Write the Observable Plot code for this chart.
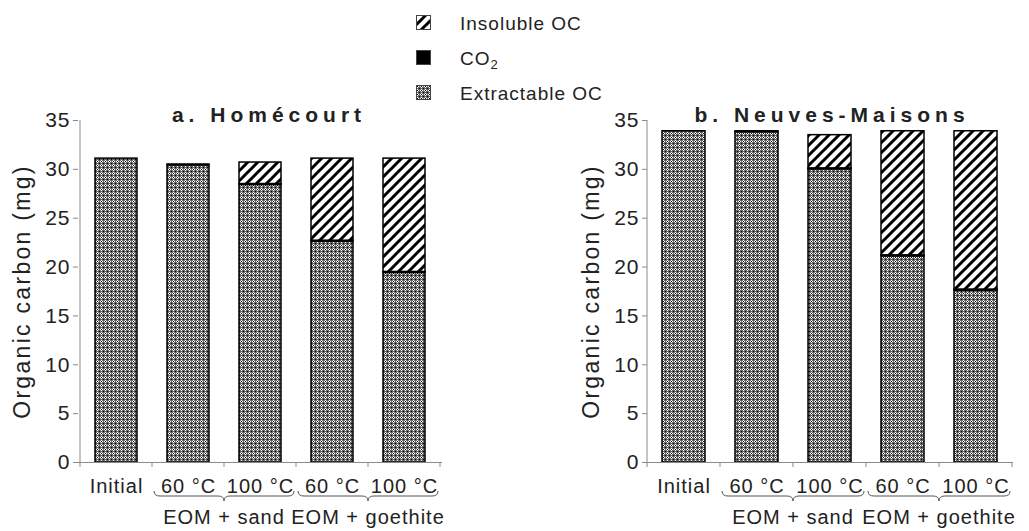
<!DOCTYPE html>
<html>
<head>
<meta charset="utf-8">
<script src="https://cdn.jsdelivr.net/npm/d3@7"></script>
<script src="https://cdn.jsdelivr.net/npm/@observablehq/plot@0.6"></script>
<style>
  html, body { margin: 0; padding: 0; background: #fff; }
  #wrap { position: relative; width: 1029px; height: 531px; overflow: hidden; font-family: "Liberation Sans", Arial, sans-serif; color: #222; }
  #wrap svg text { letter-spacing: 1px; }
  #wrap svg text.ylab { letter-spacing: 2.3px; }
  .panel { position: absolute; top: 0; }
  .title { position: absolute; font-weight: bold; font-size: 21px; letter-spacing: 5px; white-space: nowrap; transform: translate(-50%, -50%); line-height: 1; }
  #legend { position: absolute; left: 416px; top: 14px; font-size: 19px; letter-spacing: 1px; }
  #legend .row { position: relative; height: 35px; }
  #legend .row svg { position: absolute; left: 0; top: 1px; }
  #legend .row span { position: absolute; left: 44px; top: -1px; white-space: nowrap; }
  #legend sub { font-size: 13px; vertical-align: -4px; letter-spacing: 0; }
</style>
</head>
<body>
<svg width="0" height="0" style="position:absolute">
  <defs>
    <pattern id="dots" patternUnits="userSpaceOnUse" width="4" height="4" shape-rendering="crispEdges">
      <rect width="4" height="4" fill="#666"/>
      <rect x="1" y="0" width="1" height="1" fill="#fff"/>
      <rect x="0" y="1" width="1" height="1" fill="#fff"/>
      <rect x="2" y="1" width="1" height="1" fill="#fff"/>
      <rect x="1" y="2" width="1" height="1" fill="#fff"/>
      <rect x="1" y="1" width="1" height="1" fill="#000"/>
      <rect x="3" y="3" width="1" height="1" fill="#000"/>
    </pattern>
    <pattern id="hatch" patternUnits="userSpaceOnUse" width="10" height="10">
      <rect width="10" height="10" fill="#fff"/>
      <path d="M-2,2 l4,-4 M0,10 l10,-10 M8,12 l4,-4" stroke="#000" stroke-width="3"/>
    </pattern>
  </defs>
</svg>
<div id="wrap">
  <div id="left" class="panel" style="left:0"></div>
  <div id="right" class="panel" style="left:514px"></div>
  <div class="title" id="t1" style="left:269px; top:114px">a. Homécourt</div>
  <div class="title" id="t2" style="left:832px; top:114px">b. Neuves-Maisons</div>
  <div id="legend"></div>
</div>
<script>
// ---- data ----
const treatments = ["Initial", "sand60", "sand100", "goethite60", "goethite100"];
const tickLabels = ["Initial", "60 °C", "100 °C", "60 °C", "100 °C"];
const components = ["Extractable OC", "CO2", "Insoluble OC"];
const legendOrder = ["Insoluble OC", "CO2", "Extractable OC"];

const homExtractable = [31.1, 30.4, 28.4, 22.6, 19.4];
const homCO2         = [0,    0.1,  0.1,  0.1,  0.1];
const homInsoluble   = [0,    0,    2.2,  8.4,  11.6];

const nmExtractable  = [33.9, 33.8, 30.0, 21.1, 17.6];
const nmCO2          = [0,    0.1,  0.1,  0.1,  0.1];
const nmInsoluble    = [0,    0,    3.4,  12.7, 16.2];

const yTicks = [0, 5, 10, 15, 20, 25, 30, 35];
const groups = [
  {label: "EOM + sand", first: "sand60", last: "sand100"},
  {label: "EOM + goethite", first: "goethite60", last: "goethite100"}
];
const yLabel = "Organic carbon (mg)";

// ---- styles ----
const fills = ["url(#dots)", "#000", "url(#hatch)"];
const axisGray = "#8a8a8a";
const textColor = "#222";

function rowsFor(ext, co2, ins) {
  const rows = [];
  treatments.forEach((t, i) => {
    [ext[i], co2[i], ins[i]].forEach((v, j) => {
      if (v > 0) rows.push({treatment: t, component: components[j], value: v});
    });
  });
  return rows;
}

function makeChart({ext, co2, ins, width, marginLeft, marginRight}) {
  const plot = Plot.plot({
    width, height: 531,
    marginTop: 120, marginBottom: 69, marginLeft, marginRight,
    style: {fontFamily: "Liberation Sans, Arial, sans-serif", fontSize: "20px", color: textColor, background: "transparent", overflow: "visible"},
    x: {domain: treatments, paddingInner: 0.41, paddingOuter: 0.205},
    y: {domain: [0, 35]},
    color: {domain: components, range: fills},
    marks: [
      Plot.barY(rowsFor(ext, co2, ins), {x: "treatment", y: "value", fill: "component", stroke: "#000", strokeWidth: 1.5}),
      Plot.ruleY([0], {stroke: axisGray, strokeWidth: 1}),
      Plot.axisY({ticks: yTicks, tickSize: 5, tickPadding: 3, stroke: axisGray, fill: textColor, fontSize: 21, label: null}),
      Plot.axisX({tickSize: 0, tickPadding: 16, fontSize: 20, fill: textColor, label: null,
        tickFormat: d => tickLabels[treatments.indexOf(d)]}),
      Plot.text([yLabel], {frameAnchor: "left", rotate: -90, dx: -56, textAnchor: "middle", lineAnchor: "middle", fontSize: 23, fill: textColor, className: "ylab"})
    ]
  });

  // decorations computed from Plot's own scales
  const x = plot.scale("x"), y = plot.scale("y");
  const bw = x.bandwidth;
  const step = x.step != null ? x.step : (x.apply(treatments[1]) - x.apply(treatments[0]));
  const center = t => x.apply(t) + bw / 2;
  const bound = i => center(treatments[0]) - step / 2 + i * step;
  const svg = d3.select(plot);
  // y-label letter spacing (in case className not supported)
  svg.selectAll("text").filter(function() { return this.textContent === yLabel; }).style("letter-spacing", "2.3px");
  const g = svg.append("g");
  // y axis line
  g.append("line").attr("x1", bound(0)).attr("x2", bound(0))
    .attr("y1", y.apply(0)).attr("y2", y.apply(35))
    .attr("stroke", axisGray);
  // x boundary ticks
  for (let i = 0; i <= treatments.length; i++) {
    g.append("line").attr("x1", bound(i)).attr("x2", bound(i))
      .attr("y1", y.apply(0)).attr("y2", y.apply(0) + 5).attr("stroke", axisGray);
  }
  // braces + group labels
  const y0 = 491, yb = 496, yt = 501;
  groups.forEach(gr => {
    const i0 = treatments.indexOf(gr.first), i1 = treatments.indexOf(gr.last) + 1;
    const x0 = bound(i0) + 2, x1 = bound(i1) - 2, xm = (x0 + x1) / 2;
    const r = 6;
    const d = `M${x0},${y0} Q${x0},${yb} ${x0 + r},${yb} L${xm - r},${yb} Q${xm},${yb} ${xm},${yt} Q${xm},${yb} ${xm + r},${yb} L${x1 - r},${yb} Q${x1},${yb} ${x1},${y0}`;
    g.append("path").attr("d", d).attr("fill", "none").attr("stroke", "#555").attr("stroke-width", 1);
    g.append("text").attr("x", (bound(i0) + bound(i1)) / 2).attr("y", 524)
      .attr("text-anchor", "middle").attr("font-size", 20).attr("fill", textColor)
      .text(gr.label);
  });
  return plot;
}

document.getElementById("left").appendChild(makeChart({ext: homExtractable, co2: homCO2, ins: homInsoluble, width: 514, marginLeft: 78, marginRight: 72}));
document.getElementById("right").appendChild(makeChart({ext: nmExtractable, co2: nmCO2, ins: nmInsoluble, width: 515, marginLeft: 133, marginRight: 16}));

// legend
const legend = d3.select("#legend");
legendOrder.forEach(name => {
  const row = legend.append("div").attr("class", "row");
  const s = row.append("svg").attr("width", 16).attr("height", 16);
  s.append("rect").attr("x", 0.5).attr("y", 0.5).attr("width", 14).attr("height", 14)
    .attr("fill", fills[components.indexOf(name)]).attr("stroke", "#444");
  const span = row.append("span");
  if (name === "CO2") span.html("CO<sub>2</sub>"); else span.text(name);
});
</script>
</body>
</html>
